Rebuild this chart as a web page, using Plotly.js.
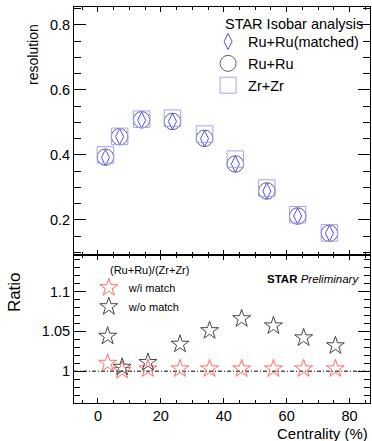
<!DOCTYPE html>
<html>
<head>
<meta charset="utf-8">
<script src="https://cdn.plot.ly/plotly-3.0.1.min.js"></script>
<style>
  html, body { margin: 0; padding: 0; background: #fff; }
  #chart { width: 372px; height: 441px; }
</style>
</head>
<body>
<div id="chart"></div>
<script>
// Centrality bins (%) as plotted in each panel
const centTop = [2.4, 6.9, 13.9, 23.7, 33.9, 43.7, 53.7, 63.5, 73.6];
const centRatio = [3.1, 7.7, 15.9, 26.1, 35.5, 45.7, 55.8, 65.4, 75.5];

// Event-plane resolution
const resRuRuMatched = [0.392, 0.456, 0.507, 0.503, 0.450, 0.372, 0.289, 0.212, 0.159];
const resRuRu        = [0.393, 0.456, 0.508, 0.503, 0.451, 0.372, 0.289, 0.212, 0.159];
const resZrZr        = [0.400, 0.457, 0.510, 0.513, 0.464, 0.387, 0.298, 0.216, 0.160];

// (Ru+Ru)/(Zr+Zr) resolution ratio
const ratioWithMatch    = [1.010, 1.001, 1.003, 1.003, 1.003, 1.003, 1.003, 1.003, 1.003];
const ratioWithoutMatch = [1.044, 1.005, 1.011, 1.034, 1.051, 1.066, 1.057, 1.042, 1.032];

// Axis tick labels
const resTickVals = [0.2, 0.4, 0.6, 0.8];
const resTickText = ['0.2', '0.4', '0.6', '0.8'];
const ratioTickVals = [1, 1.05, 1.1];
const ratioTickText = ['1', '1.05', '1.1'];
const centTickVals = [0, 20, 40, 60, 80];
const centTickText = ['0', '20', '40', '60', '80'];

const FONT = 'Liberation Sans, Arial, Helvetica, sans-serif';
const BLUE = 'rgb(80,80,255)';
const LIGHTBLUE = 'rgb(160,160,255)';
const GREY = 'rgb(95,95,95)';
const RED = 'rgb(255,105,105)';
const DARK = 'rgb(70,70,70)';

function openMarker(symbol, size, color) {
  return { symbol: symbol, size: size, color: color, line: { color: color, width: 1 } };
}

const traces = [
  {
    x: centTop, y: resRuRuMatched, xaxis: 'x2', yaxis: 'y2', type: 'scatter', mode: 'markers',
    name: 'Ru+Ru(matched)', legend: 'legend', marker: openMarker('diamond-tall-open', 11.5, BLUE)
  },
  {
    x: centTop, y: resRuRu, xaxis: 'x2', yaxis: 'y2', type: 'scatter', mode: 'markers',
    name: 'Ru+Ru', legend: 'legend', marker: openMarker('circle-open', 16.5, GREY)
  },
  {
    x: centTop, y: resZrZr, xaxis: 'x2', yaxis: 'y2', type: 'scatter', mode: 'markers',
    name: 'Zr+Zr', legend: 'legend', marker: openMarker('square-open', 16.5, LIGHTBLUE)
  },
  {
    x: centRatio, y: ratioWithMatch, xaxis: 'x', yaxis: 'y', type: 'scatter', mode: 'markers',
    name: 'w/i match', legend: 'legend2', marker: openMarker('star-open', 13.5, RED)
  },
  {
    x: centRatio, y: ratioWithoutMatch, xaxis: 'x', yaxis: 'y', type: 'scatter', mode: 'markers',
    name: 'w/o match', legend: 'legend2', marker: openMarker('star-open', 13.5, DARK)
  }
];

const xCommon = {
  range: [-7.6, 86.5],
  tickmode: 'array', tickvals: centTickVals, ticktext: centTickText,
  ticks: 'inside', ticklen: 5, tickcolor: '#000', tickwidth: 1,
  minor: { tickmode: 'linear', tick0: 0, dtick: 5, ticks: 'inside', ticklen: 3, tickcolor: '#000' },
  showline: true, linecolor: '#000', linewidth: 1, mirror: 'allticks',
  showgrid: false, zeroline: false,
  tickfont: { family: FONT, size: 14.5, color: '#000' }
};

const layout = {
  width: 372, height: 441,
  margin: { l: 74, r: 2, t: 7, b: 38 },
  paper_bgcolor: '#fff', plot_bgcolor: '#fff',
  font: { family: FONT, color: '#000' },
  xaxis: Object.assign({}, xCommon, { anchor: 'y', domain: [0, 1] }),
  xaxis2: Object.assign({}, xCommon, { anchor: 'y2', matches: 'x', showticklabels: false }),
  yaxis: {
    anchor: 'x', domain: [0, 0.3737], range: [0.96, 1.146],
    tickmode: 'array', tickvals: ratioTickVals, ticktext: ratioTickText,
    ticks: 'inside', ticklen: 12, tickcolor: '#000',
    minor: { tickmode: 'linear', tick0: 1, dtick: 0.01, ticks: 'inside', ticklen: 6, tickcolor: '#000' },
    showline: true, linecolor: '#000', linewidth: 1, mirror: 'allticks',
    showgrid: false, zeroline: false,
    tickfont: { family: FONT, size: 14.5, color: '#000' }
  },
  yaxis2: {
    anchor: 'x2', domain: [0.3737, 1], range: [0.092, 0.855],
    tickmode: 'array', tickvals: resTickVals, ticktext: resTickText,
    ticks: 'inside', ticklen: 12, tickcolor: '#000',
    minor: { tickmode: 'linear', tick0: 0, dtick: 0.05, ticks: 'inside', ticklen: 7, tickcolor: '#000' },
    showline: true, linecolor: '#000', linewidth: 1, mirror: 'allticks',
    showgrid: false, zeroline: false,
    tickfont: { family: FONT, size: 14.5, color: '#000' }
  },
  legend: {
    x: 0.453, y: 0.953, xanchor: 'left', yanchor: 'top',
    bgcolor: 'rgba(0,0,0,0)', borderwidth: 0,
    font: { family: FONT, size: 14.5, color: '#000' },
    itemclick: false, itemdoubleclick: false
  },
  legend2: {
    x: 0.05, y: 0.328, xanchor: 'left', yanchor: 'top',
    bgcolor: 'rgba(0,0,0,0)', borderwidth: 0,
    font: { family: FONT, size: 11, color: '#000' },
    itemclick: false, itemdoubleclick: false
  },
  shapes: [
    {
      type: 'line', xref: 'x domain', yref: 'y', x0: 0, x1: 1, y0: 1, y1: 1,
      line: { color: '#000', width: 1, dash: '4px,2px,1px,2px' }, layer: 'below'
    }
  ],
  annotations: [
    {
      text: 'STAR Isobar analysis', xref: 'paper', yref: 'paper',
      x: 0.502, y: 0.957, xanchor: 'left', yanchor: 'middle', showarrow: false,
      font: { family: FONT, size: 14.5, color: '#000' }
    },
    {
      text: '(Ru+Ru)/(Zr+Zr)', xref: 'paper', yref: 'paper',
      x: 0.114, y: 0.336, xanchor: 'left', yanchor: 'middle', showarrow: false,
      font: { family: FONT, size: 11, color: '#000' }
    },
    {
      text: '<b>STAR</b> <i>Preliminary</i>', xref: 'paper', yref: 'paper',
      x: 0.969, y: 0.312, xanchor: 'right', yanchor: 'middle', showarrow: false,
      font: { family: FONT, size: 11.5, color: '#000' }
    },
    {
      text: 'resolution', xref: 'paper', yref: 'paper', textangle: -90,
      x: -0.1385, y: 0.879, xanchor: 'center', yanchor: 'middle', showarrow: false,
      font: { family: FONT, size: 14, color: '#000' }
    },
    {
      text: 'Ratio', xref: 'paper', yref: 'paper', textangle: -90,
      x: -0.2027, y: 0.280, xanchor: 'center', yanchor: 'middle', showarrow: false,
      font: { family: FONT, size: 17, color: '#000' }
    },
    {
      text: 'Centrality (%)', xref: 'paper', yref: 'paper',
      x: 1, y: -0.078, xanchor: 'right', yanchor: 'middle', showarrow: false,
      font: { family: FONT, size: 15, color: '#000' }
    }
  ]
};

Plotly.newPlot('chart', traces, layout, { staticPlot: true, displayModeBar: false });
</script>
</body>
</html>
